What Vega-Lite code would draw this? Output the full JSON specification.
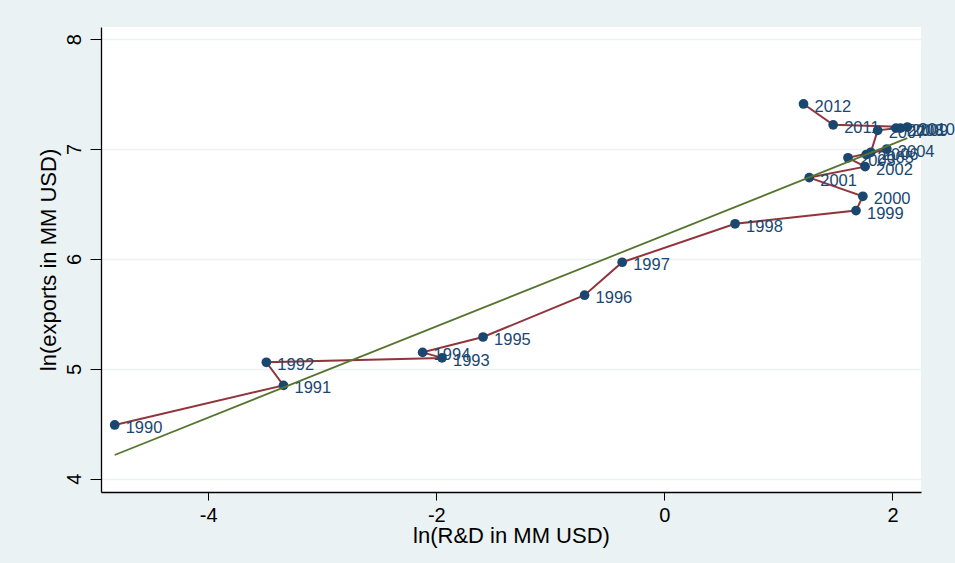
{
  "$schema": "https://vega.github.io/schema/vega-lite/v6.json",
  "width": 820,
  "height": 465,
  "autosize": {"type": "none"},
  "padding": {"left": 101, "top": 27, "right": 34, "bottom": 71},
  "background": "#eaf2f3",
  "config": {
    "view": {"fill": "white", "stroke": null},
    "font": "Liberation Sans",
    "axis": {
      "labelFont": "Liberation Sans",
      "titleFont": "Liberation Sans",
      "labelColor": "#000000",
      "titleColor": "#000000",
      "titleFontWeight": "normal",
      "labelFontSize": 20,
      "titleFontSize": 22,
      "domainColor": "#000000",
      "tickColor": "#000000",
      "domainWidth": 1.3,
      "tickWidth": 1,
      "labelExpr": "'' + datum.value"
    }
  },
  "data": {
    "values": [
      {"year": 1990, "rd": -4.82, "ex": 4.49},
      {"year": 1991, "rd": -3.34, "ex": 4.85},
      {"year": 1992, "rd": -3.49, "ex": 5.06},
      {"year": 1993, "rd": -1.95, "ex": 5.10},
      {"year": 1994, "rd": -2.12, "ex": 5.15},
      {"year": 1995, "rd": -1.59, "ex": 5.29},
      {"year": 1996, "rd": -0.70, "ex": 5.67},
      {"year": 1997, "rd": -0.37, "ex": 5.97},
      {"year": 1998, "rd": 0.62, "ex": 6.32},
      {"year": 1999, "rd": 1.68, "ex": 6.44},
      {"year": 2000, "rd": 1.74, "ex": 6.57},
      {"year": 2001, "rd": 1.27, "ex": 6.74},
      {"year": 2002, "rd": 1.76, "ex": 6.84},
      {"year": 2003, "rd": 1.61, "ex": 6.92},
      {"year": 2004, "rd": 1.95, "ex": 7.00},
      {"year": 2005, "rd": 1.77, "ex": 6.95},
      {"year": 2006, "rd": 1.81, "ex": 6.97},
      {"year": 2007, "rd": 1.87, "ex": 7.17},
      {"year": 2008, "rd": 2.03, "ex": 7.19},
      {"year": 2009, "rd": 2.07, "ex": 7.19},
      {"year": 2010, "rd": 2.13, "ex": 7.20},
      {"year": 2011, "rd": 1.48, "ex": 7.22},
      {"year": 2012, "rd": 1.22, "ex": 7.41}
    ]
  },
  "encoding": {
    "x": {
      "field": "rd", "type": "quantitative",
      "scale": {"domain": [-4.94, 2.25], "nice": false, "zero": false},
      "axis": {"values": [-4, -2, 0, 2], "title": "ln(R&D in MM USD)", "grid": false, "tickSize": 8, "labelPadding": 5, "titlePadding": 0}
    },
    "y": {
      "field": "ex", "type": "quantitative",
      "scale": {"domain": [3.88, 8.11], "nice": false, "zero": false},
      "axis": {"values": [4, 5, 6, 7, 8], "title": "ln(exports in MM USD)", "grid": true, "gridColor": "#eaf2f3", "gridWidth": 1.5, "tickSize": 11, "labelAngle": -90, "labelAlign": "center", "labelBaseline": "bottom", "labelPadding": 6, "titlePadding": 4}
    }
  },
  "layer": [
    {
      "mark": {"type": "line", "color": "#90353b", "strokeWidth": 2},
      "encoding": {"order": {"field": "year", "type": "quantitative"}}
    },
    {
      "mark": {"type": "point", "filled": true, "color": "#1a476f", "size": 95, "opacity": 1}
    },
    {
      "mark": {"type": "text", "align": "left", "baseline": "middle", "dx": 11, "dy": 3, "fontSize": 16.5, "color": "#1a476f", "font": "Liberation Sans"},
      "encoding": {"text": {"field": "year", "type": "nominal"}}
    },
    {
      "transform": [{"regression": "ex", "on": "rd"}],
      "mark": {"type": "line", "color": "#55752f", "strokeWidth": 1.8}
    }
  ]
}
